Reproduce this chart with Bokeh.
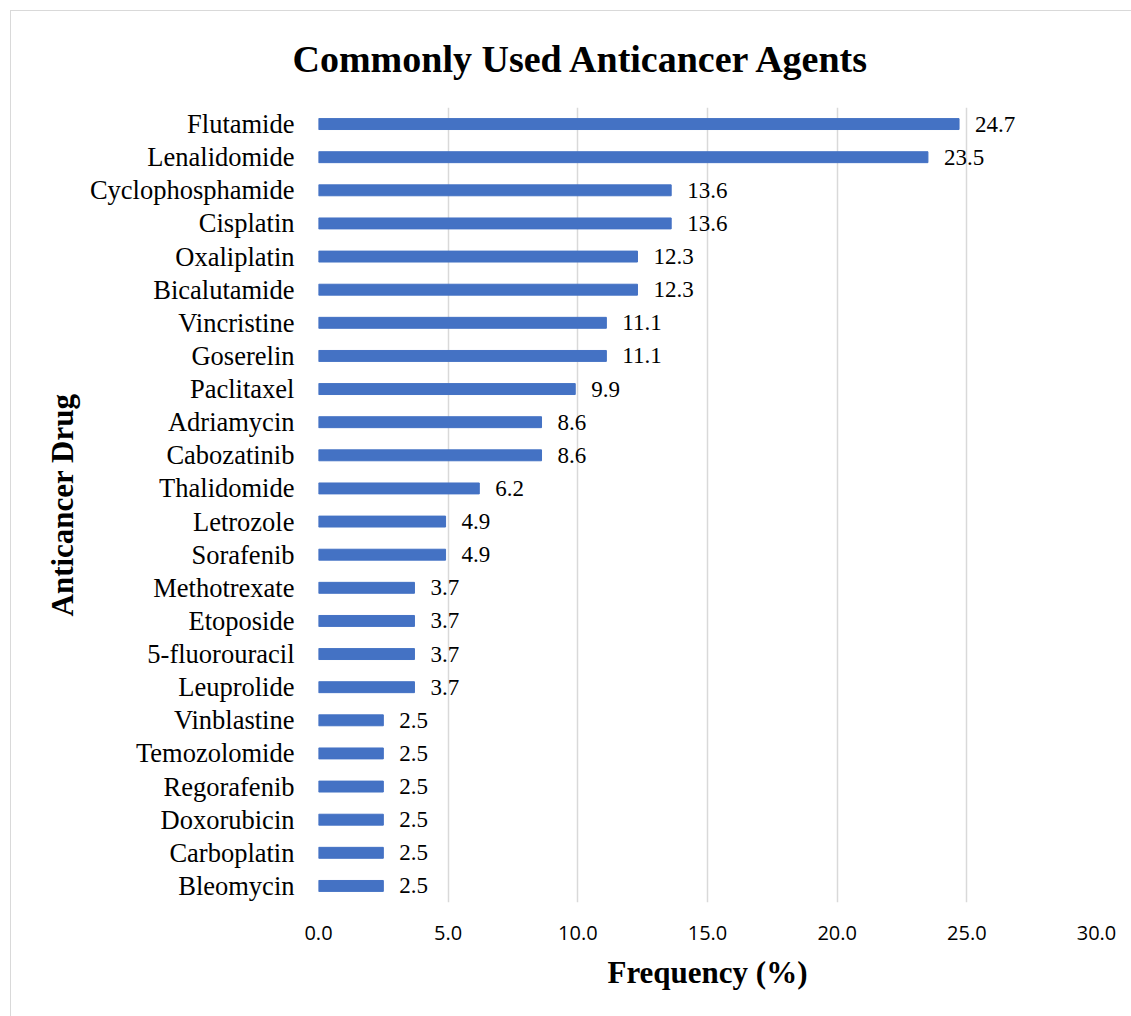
from bokeh.plotting import figure
from bokeh.models import ColumnDataSource, Range1d, FixedTicker, NumeralTickFormatter, LabelSet
from bokeh.core.properties import value
from bokeh.embed import file_html
from bokeh.resources import INLINE

title_text = "Commonly  Used Anticancer Agents"
drugs = ["Flutamide", "Lenalidomide", "Cyclophosphamide", "Cisplatin", "Oxaliplatin",
         "Bicalutamide", "Vincristine", "Goserelin", "Paclitaxel", "Adriamycin",
         "Cabozatinib", "Thalidomide", "Letrozole", "Sorafenib", "Methotrexate",
         "Etoposide", "5-fluorouracil", "Leuprolide", "Vinblastine", "Temozolomide",
         "Regorafenib", "Doxorubicin", "Carboplatin", "Bleomycin"]
freq = [24.7, 23.5, 13.6, 13.6, 12.3, 12.3, 11.1, 11.1, 9.9, 8.6, 8.6, 6.2,
        4.9, 4.9, 3.7, 3.7, 3.7, 3.7, 2.5, 2.5, 2.5, 2.5, 2.5, 2.5]
x_ticks = [0, 5, 10, 15, 20, 25, 30]

src = ColumnDataSource(dict(drug=drugs, freq=freq, lab=["%.1f" % v for v in freq]))

p = figure(width=1120, height=1005, y_range=list(reversed(drugs)),
           x_range=Range1d(0, 30), output_backend="svg", toolbar_location=None,
           min_border_left=307, min_border_right=35, min_border_top=96,
           min_border_bottom=114, margin=(11, 0, 0, 11))
p.styles = {"outline": "1px solid #d9d9d9"}
p.outline_line_color = None

p.title.text = title_text
p.title.text_font = "Liberation Serif"
p.title.text_font_size = "38px"
p.title.text_font_style = "bold"
p.title.text_color = "black"
p.title.align = "left"
p.title.offset = -26
p.title.vertical_align = "top"
p.title.standoff = 51

p.hbar(y="drug", right="freq", left=0, height=0.33, color="#4472C4", source=src)
labels = LabelSet(x="freq", y="drug", text="lab", source=src, x_offset=16,
                  text_align="left", text_baseline="middle",
                  text_font=value("Liberation Serif"), text_font_size=value("23px"),
                  text_color="black")
p.add_layout(labels)

p.xaxis.ticker = FixedTicker(ticks=x_ticks)
p.xaxis.formatter = NumeralTickFormatter(format="0.0")
p.xaxis.axis_line_color = None
p.xaxis.major_tick_line_color = None
p.xaxis.minor_tick_line_color = None
p.xaxis.major_tick_out = 0
p.xaxis.major_label_standoff = 23
p.xaxis.major_label_text_font = "Open Sans"
p.xaxis.major_label_text_font_size = "20px"
p.xaxis.major_label_text_color = "black"
p.xaxis.axis_label = "Frequency (%)"
p.xaxis.axis_label_text_font = "Liberation Serif"
p.xaxis.axis_label_text_font_size = "31px"
p.xaxis.axis_label_text_font_style = "bold"
p.xaxis.axis_label_text_color = "black"
p.xaxis.axis_label_standoff = 12

p.yaxis.axis_line_color = None
p.yaxis.major_tick_line_color = None
p.yaxis.major_tick_out = 0
p.yaxis.major_label_standoff = 24
p.yaxis.major_label_text_font = "Liberation Serif"
p.yaxis.major_label_text_font_size = "26.5px"
p.yaxis.major_label_text_color = "black"
p.yaxis.axis_label = "Anticancer Drug"
p.yaxis.axis_label_text_font = "Liberation Serif"
p.yaxis.axis_label_text_font_size = "31px"
p.yaxis.axis_label_text_font_style = "bold"
p.yaxis.axis_label_text_color = "black"
p.yaxis.axis_label_standoff = 7

p.xgrid.grid_line_color = "#d9d9d9"
p.xgrid.grid_line_width = 1.5
p.ygrid.grid_line_color = None

open("out.html", "w").write(file_html(p, INLINE))
